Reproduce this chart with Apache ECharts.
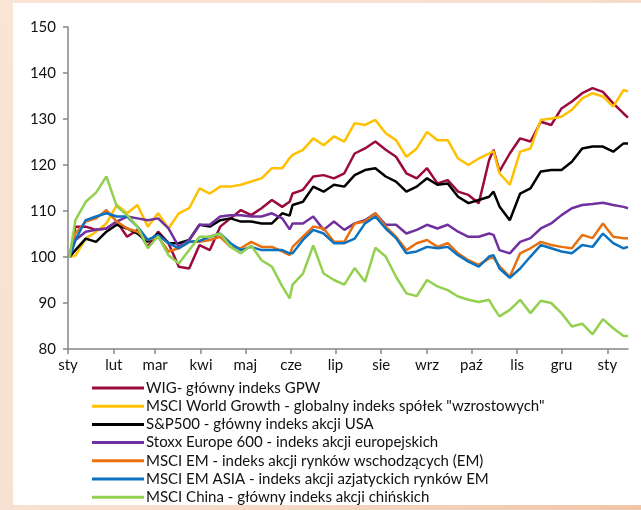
<!DOCTYPE html>
<html>
<head>
<meta charset="utf-8">
<script src="https://cdn.jsdelivr.net/npm/echarts@6/dist/echarts.min.js"></script>
<style>
  html, body { margin: 0; padding: 0; }
  #chart { width: 641px; height: 510px; }
</style>
</head>
<body>
<div id="chart"></div>
<script>
// Month names shown under the time axis
const monthNames = ['sty', 'lut', 'mar', 'kwi', 'maj', 'cze', 'lip', 'sie', 'wrz', 'paź', 'lis', 'gru'];

// Observation dates (mostly weekly closes, index = 100 on the first session)
const obsDates = [
  '2023-01-02', '2023-01-06', '2023-01-13', '2023-01-20', '2023-01-27',
  '2023-02-03', '2023-02-10', '2023-02-17', '2023-02-24',
  '2023-03-03', '2023-03-10', '2023-03-17', '2023-03-24', '2023-03-31',
  '2023-04-07', '2023-04-14', '2023-04-21', '2023-04-28',
  '2023-05-05', '2023-05-12', '2023-05-19', '2023-05-26', '2023-05-31',
  '2023-06-02', '2023-06-09', '2023-06-16', '2023-06-23', '2023-06-30',
  '2023-07-07', '2023-07-14', '2023-07-21', '2023-07-28',
  '2023-08-04', '2023-08-11', '2023-08-18', '2023-08-25',
  '2023-09-01', '2023-09-08', '2023-09-15', '2023-09-22', '2023-09-29',
  '2023-10-06', '2023-10-13', '2023-10-16', '2023-10-20', '2023-10-27',
  '2023-11-03', '2023-11-10', '2023-11-17', '2023-11-24',
  '2023-12-01', '2023-12-08', '2023-12-15', '2023-12-22', '2023-12-29',
  '2024-01-05', '2024-01-12', '2024-01-15'
];

const wig = [100, 106.6, 106.6, 105.9, 106.2, 107.7, 104.4, 105.9, 102.2, 105.5, 103.0, 97.9, 97.5, 102.6, 101.5, 106.6, 108.4, 110.2, 109.1, 110.6, 112.4, 110.9, 112, 113.8, 114.6, 117.5, 117.8, 117.1, 118.2, 122.5, 123.6, 125.1, 123.3, 121.8, 118.2, 117.1, 119.3, 116.0, 116.7, 114.2, 113.5, 111.7, 121.1, 123.3, 118.6, 122.5, 125.8, 125.1, 129.4, 128.7, 132.3, 133.8, 135.6, 136.7, 135.9, 133.4, 131.2, 130.3];
const msciWorldGrowth = [100, 100.3, 104, 105.5, 107.3, 111.3, 109.5, 111.3, 106.6, 109.5, 106.2, 109.5, 110.6, 114.9, 113.8, 115.3, 115.3, 115.7, 116.4, 117.1, 119.3, 119.3, 121.5, 122.2, 123.3, 125.8, 124.3, 126.2, 125.1, 129.1, 128.7, 129.8, 126.9, 125.4, 121.8, 123.6, 127.2, 125.4, 125.4, 121.4, 120, 121.4, 122.5, 123, 118.2, 115.7, 122.9, 123.6, 129.8, 130.1, 130.5, 132, 134.5, 135.6, 134.9, 132.7, 136.3, 136.0];
const sp500 = [100, 101.5, 104, 103.3, 105.5, 107, 106.2, 105.1, 103.3, 105.1, 103, 103, 103.7, 107, 106.6, 108, 108.4, 107.7, 107.7, 107.3, 107.3, 109.5, 109, 111.3, 112, 115.3, 114.2, 115.7, 115.3, 117.8, 118.9, 119.3, 117.5, 116.4, 114.2, 115.3, 117.1, 115.7, 116, 113.1, 111.7, 112.4, 113.1, 114.2, 111, 108, 113.8, 114.9, 118.6, 118.9, 118.9, 120.7, 123.6, 124, 124, 122.9, 124.7, 124.7];
const stoxx600 = [100, 103.7, 105.5, 105.9, 106.2, 107.7, 108.8, 108.4, 108, 108.4, 106.2, 102.2, 103.7, 107, 107, 108.8, 109.1, 109.1, 108.8, 108.8, 109.5, 108.4, 106, 107.3, 107.3, 108.8, 105.9, 107.7, 105.9, 107.3, 108, 109.5, 107, 107, 105.1, 105.9, 107, 106.2, 107, 105.5, 104.4, 104.4, 105.1, 104.8, 101.5, 100.8, 103.3, 104.1, 106.2, 107.3, 109.1, 110.6, 111.3, 111.5, 111.8, 111.3, 110.9, 110.6];
const msciEM = [100, 105.1, 107.7, 108.4, 110.2, 107.7, 106.2, 105.5, 103.7, 104.4, 101.2, 101.9, 103.3, 103.3, 103.7, 104.4, 102.2, 101.9, 103.3, 102.2, 102.2, 101.2, 100.4, 102.2, 104.4, 106.6, 106.2, 103.3, 103.3, 107.3, 107.7, 109.5, 106.6, 104.4, 101.5, 103, 103.7, 102.2, 103, 100.8, 99.3, 98.3, 99.7, 99.9, 98, 95.7, 100.8, 101.9, 103.3, 102.6, 102.2, 101.9, 104.8, 104.1, 107.3, 104.4, 104.1, 104.1];
const msciEMAsia = [100, 103.7, 108, 108.8, 109.5, 108.8, 108.8, 106.6, 103.7, 104.8, 103, 101.9, 103.3, 103.5, 104.4, 105.1, 103, 101.5, 102.2, 101.5, 101.5, 101.5, 100.8, 100.8, 103.7, 105.9, 105.1, 103, 103, 104, 107.3, 108.8, 106.2, 104.1, 100.8, 101.2, 102.2, 101.9, 102.2, 100.4, 99, 97.9, 100.1, 100.4, 97.5, 95.5, 97.5, 100.1, 102.6, 101.9, 101.2, 100.8, 102.6, 102.2, 105.1, 103, 101.9, 102.2];
const msciChina = [100, 108, 112, 114, 117.5, 111, 109.1, 106.6, 101.9, 104.5, 100.4, 98.6, 101.5, 104.4, 104.4, 105.1, 102.2, 100.8, 102.5, 99.3, 97.9, 93.6, 91, 94, 96.4, 102.5, 96.4, 95, 94, 97.6, 94.6, 102, 100.1, 95.7, 92.1, 91.5, 95, 93.6, 92.8, 91.4, 90.7, 90.2, 90.7, 89, 87.1, 88.5, 90.7, 87.8, 90.5, 90, 87.8, 84.9, 85.5, 83.2, 86.5, 84.5, 82.8, 82.8];

const seriesNames = [
  'WIG- główny indeks GPW',
  'MSCI World Growth - globalny indeks spółek "wzrostowych"',
  'S&P500 - główny indeks akcji USA',
  'Stoxx Europe 600 - indeks akcji europejskich',
  'MSCI EM - indeks akcji rynków wschodzących (EM)',
  'MSCI EM ASIA - indeks akcji azjatyckich rynków EM',
  'MSCI China - główny indeks akcji chińskich'
];
const seriesValues = [wig, msciWorldGrowth, sp500, stoxx600, msciEM, msciEMAsia, msciChina];
const seriesColors = ['#9b0a3f', '#ffc000', '#000000', '#7030a0', '#e8700f', '#0a72c0', '#92d050'];

// Axis y range
const yMin = 80, yMax = 150, yStep = 10;

// Daily calendar for the category axis: 1 Jan 2023 .. 15 Jan 2024
function fmt(d) {
  const m = String(d.getMonth() + 1).padStart(2, '0');
  const day = String(d.getDate()).padStart(2, '0');
  return d.getFullYear() + '-' + m + '-' + day;
}
const calendar = [];
for (let d = new Date(2023, 0, 1); d <= new Date(2024, 0, 15); d.setDate(d.getDate() + 1)) {
  calendar.push(fmt(d));
}
const isMonthStart = (idx, val) => val.slice(8) === '01';

const font = 'Lato, "Liberation Sans", sans-serif';

const chart = echarts.init(document.getElementById('chart'), null, { renderer: 'canvas' });
chart.setOption({
  animation: false,
  backgroundColor: {
    type: 'linear', x: 0, y: 0, x2: 1, y2: 1,
    colorStops: [
      { offset: 0, color: '#f9e4d6' },
      { offset: 0.5, color: '#f7e0d2' },
      { offset: 1, color: '#f0c6a8' }
    ]
  },
  graphic: [{
    type: 'rect', z: -10, silent: true,
    shape: { x: 13, y: 3, width: 628, height: 502 },
    style: { fill: '#ffffff' }
  }],
  grid: { left: 68, top: 27, width: 560, height: 322, containLabel: false },
  legend: {
    orient: 'vertical',
    left: 92, top: 380,
    icon: 'rect',
    itemWidth: 52, itemHeight: 3,
    itemGap: 2.2,
    padding: 0,
    textStyle: { fontFamily: font, fontSize: 15, color: '#111', lineHeight: 16, padding: [0, 0, 0, -3] },
    data: seriesNames
  },
  xAxis: {
    type: 'category',
    data: calendar,
    boundaryGap: false,
    axisLine: { show: true, lineStyle: { color: '#868686', width: 1.5 } },
    axisTick: { show: true, interval: isMonthStart, length: 5, lineStyle: { color: '#868686', width: 1.5 } },
    axisLabel: {
      interval: isMonthStart,
      formatter: (val) => monthNames[parseInt(val.slice(5, 7), 10) - 1],
      fontFamily: font, fontSize: 15, color: '#111', margin: 9
    },
    splitLine: { show: false }
  },
  yAxis: {
    type: 'value',
    min: yMin, max: yMax, interval: yStep,
    axisLine: { show: true, lineStyle: { color: '#868686', width: 1.5 } },
    axisTick: { show: true, length: 5, lineStyle: { color: '#868686', width: 1.5 } },
    axisLabel: { fontFamily: font, fontSize: 15, color: '#111', margin: 12 },
    splitLine: { show: false }
  },
  series: seriesNames.map((name, i) => ({
    name,
    type: 'line',
    showSymbol: false,
    symbol: 'none',
    connectNulls: true,
    color: seriesColors[i],
    lineStyle: { width: 2.5, color: seriesColors[i] },
    data: obsDates.map((dt, k) => [dt, seriesValues[i][k]])
  }))
});
</script>
</body>
</html>
